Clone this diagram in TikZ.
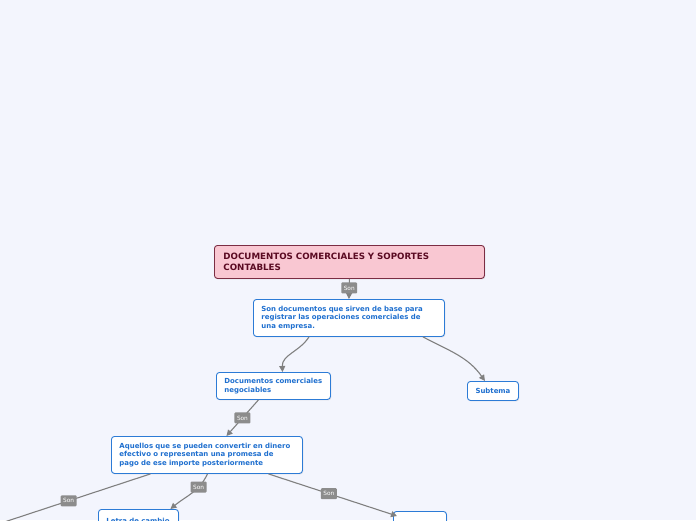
\documentclass[tikz,border=0pt]{standalone}
\usepackage{fontspec}
\setmainfont{DejaVu Sans}
\usetikzlibrary{arrows.meta,shadows}
\definecolor{bg}{HTML}{F3F5FD}
\definecolor{pinkfill}{HTML}{F9C7D2}
\definecolor{maroonbd}{HTML}{7B2D43}
\definecolor{maroontext}{HTML}{5A0A22}
\definecolor{bluebd}{HTML}{2C7BD6}
\definecolor{bluetext}{HTML}{1E6FCF}
\definecolor{edgegray}{HTML}{808080}
\definecolor{songray}{HTML}{8C8C8C}
\begin{document}
\begin{tikzpicture}[x=1pt,y=1pt,
  box/.style={anchor=north west, rounded corners=3pt, line width=0.9pt, inner ysep=0pt,
    align=left, drop shadow={opacity=0.18, shadow xshift=0.8pt, shadow yshift=-1pt}},
  topic/.style={box, draw=bluebd, fill=white, text=bluetext, inner xsep=8pt,
    font=\bfseries\fontsize{6.95}{8.8}\selectfont},
  maintopic/.style={box, draw=maroonbd, fill=pinkfill, text=maroontext, inner xsep=9pt,
    font=\bfseries\fontsize{8.7}{10.4}\selectfont},
  son/.style={fill=songray, text=white, rounded corners=1pt, inner xsep=2.5pt, inner ysep=1.8pt,
    font=\fontsize{5.8}{6}\selectfont, minimum height=11pt},
  conn/.style={draw=edgegray, line width=1.1pt, -{Triangle[length=6pt,width=6pt]}},
  plain/.style={draw=edgegray, line width=1.1pt}]
\useasboundingbox (0,0) rectangle (696,-520);
\clip (0,0) rectangle (696,-520);
\fill[bg] (0,0) rectangle (696,-520);

\node[maintopic, minimum width=270pt, minimum height=33pt, text width=252pt] (main) at (214,-245)
  {DOCUMENTOS COMERCIALES Y SOPORTES\\CONTABLES};
\node[topic, minimum width=191pt, minimum height=37pt, text width=175pt] (def) at (253,-299)
  {Son documentos que sirven de base para\\registrar las operaciones comerciales de\\una empresa.};
\node[topic, minimum width=114pt, minimum height=27pt, text width=98pt] (neg) at (216,-372)
  {Documentos comerciales\\negociables};
\node[topic, minimum width=51pt, minimum height=19pt, text width=51pt, inner xsep=0pt, align=center] (sub) at (467,-381)
  {Subtema};
\node[topic, minimum width=191pt, minimum height=37pt, text width=175pt] (aq) at (111,-436)
  {Aquellos que se pueden convertir en dinero\\efectivo o representan una promesa de\\pago de ese importe posteriormente};
\node[topic, minimum width=80pt, minimum height=22pt, text width=64pt] (letra) at (98,-509)
  {Letra de cambio};
\node[topic, minimum width=51pt, minimum height=26pt, text width=37pt, inner xsep=8pt] (lib) at (393,-511)
  {Libranza};
\coordinate (offleft) at (-20,-530);

\draw[conn] (main.south) -- node[son, pos=0.45]{Son} (def.north);
\draw[conn] ([xshift=-40pt]def.south) to[out=-122,in=92] ([xshift=9pt]neg.north);
\draw[conn] ([xshift=74pt]def.south) to[out=-28,in=125] ([xshift=-8pt]sub.north);
\draw[conn] ([xshift=-15pt]neg.south) -- node[son, pos=0.5]{Son} ([xshift=19.5pt]aq.north);
\draw[plain] ([xshift=-56.5pt]aq.south) -- node[son, pos=0.48]{Son} (offleft);
\draw[conn] ([xshift=0.5pt]aq.south) to[out=-115,in=40] node[son, pos=0.3]{Son} ([xshift=32pt]letra.north);
\draw[conn] ([xshift=61.5pt]aq.south) -- node[son, pos=0.47]{Son} ([yshift=-5pt,xshift=4pt]lib.north west);
\end{tikzpicture}
\end{document}
